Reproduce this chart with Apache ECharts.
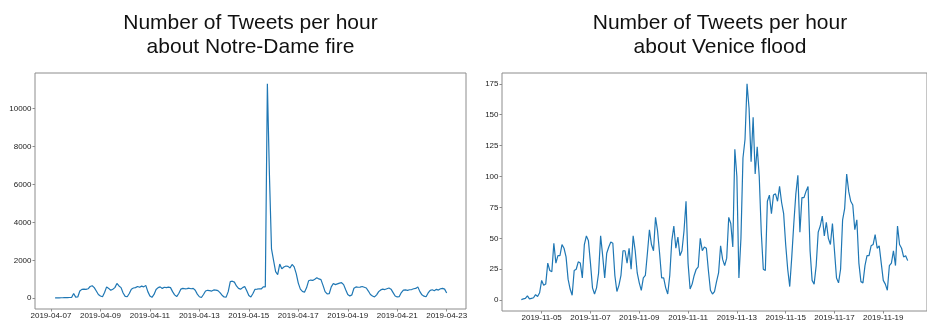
<!DOCTYPE html>
<html>
<head>
<meta charset="utf-8">
<title>Tweets per hour</title>
<script src="https://cdn.jsdelivr.net/npm/echarts@6/dist/echarts.min.js"></script>
<style>
  html, body { margin: 0; padding: 0; background: #fff; }
  #chart { width: 927px; height: 326px; }
</style>
</head>
<body>
<div id="chart"></div>
<script>
const STEP = 2 * 3600 * 1000; // one reading every 2 hours

// Notre-Dame fire, counts from 2019-04-07 04:00
const notreStart = Date.UTC(2019, 3, 7, 4);
const notreCounts = [
  20, 22, 25, 28, 30, 33, 36, 40, 45, 250,
  60, 70, 380, 470, 480, 470, 500, 620, 660, 560, 380, 200,
  120, 80, 300, 600, 520, 420, 480, 560, 780, 650, 560, 280,
  100, 80, 250, 480, 540, 560, 620, 580, 640, 600, 680, 350,
  120, 50, 200, 460, 560, 600, 520, 580, 560, 590, 560, 350,
  180, 90, 250, 480, 520, 500, 510, 530, 500, 520, 420, 220,
  80, 40, 200, 380, 420, 400, 380, 440, 430, 400, 300, 160,
  70, 60, 350, 880, 900, 850, 650, 520, 480, 560, 620, 400,
  150, 70, 250, 470, 480, 500, 490, 600, 600, 11300, 6500, 2600,
  2000, 1400, 1250, 1800, 1550, 1650, 1700, 1680, 1600, 1780, 1650, 1300,
  800, 480, 360, 320, 550, 920, 960, 940, 1000, 1080, 1020, 980,
  680, 350, 230, 240, 600, 780, 720, 760, 800, 820, 720, 450,
  200, 120, 180, 530, 600, 580, 590, 620, 580, 540, 380, 200,
  120, 70, 180, 350, 440, 480, 460, 500, 540, 480, 300, 120,
  70, 90, 300, 430, 440, 420, 450, 460, 500, 520, 600, 350,
  180, 110, 80, 280, 420, 450, 400, 470, 430, 500, 520, 480,
  280
];
const notreDays = ['2019-04-07', '2019-04-09', '2019-04-11', '2019-04-13',
  '2019-04-15', '2019-04-17', '2019-04-19', '2019-04-21', '2019-04-23'];
const notreYTicks = [0, 2000, 4000, 6000, 8000, 10000];

// Venice flood, counts from 2019-11-04 04:00
const veniceStart = Date.UTC(2019, 10, 4, 4);
const veniceCounts = [
  0.5, 1, 1.5, 3.5, 1, 1.5, 2, 4.5, 3, 6,
  16, 12, 13, 30, 24, 23, 46, 30, 36, 36, 45, 42,
  35, 17, 9, 4, 24, 25, 31, 30, 18, 45, 52, 48,
  30, 10, 5, 10, 22, 52, 36, 18, 38, 43, 47, 46,
  20, 7, 12, 20, 40, 40, 30, 42, 25, 52, 40, 22,
  14, 8, 18, 20, 38, 57, 45, 40, 67, 56, 38, 18,
  18, 10, 5, 20, 48, 60, 42, 51, 36, 40, 56, 80,
  30, 9, 13, 20, 25, 27, 50, 40, 43, 42, 24, 8,
  5, 7, 15, 22, 44, 33, 28, 34, 67, 62, 43, 122,
  100, 18, 50, 115, 130, 175, 155, 112, 148, 102, 124, 100,
  55, 25, 24, 80, 85, 70, 85, 86, 80, 92, 79, 70,
  45, 25, 11, 35, 62, 86, 101, 55, 83, 83, 88, 92,
  40, 16, 13, 28, 55, 60, 68, 52, 63, 50, 45, 62,
  40, 18, 14, 25, 65, 74, 102, 88, 80, 77, 57, 65,
  30, 15, 14, 28, 36, 36, 44, 45, 53, 42, 44, 30,
  16, 13, 8, 28, 30, 40, 28, 60, 45, 42, 35, 36,
  32
];
const veniceDays = ['2019-11-05', '2019-11-07', '2019-11-09', '2019-11-11',
  '2019-11-13', '2019-11-15', '2019-11-17', '2019-11-19'];
const veniceYTicks = [0, 25, 50, 75, 100, 125, 150, 175];

const toPoints = (start, counts) => counts.map((v, i) => [start + i * STEP, v]);
const dayTime = (s) => Date.parse(s + 'T00:00:00Z');
const pad = (n) => (n < 10 ? '0' : '') + n;
const fmtDay = (v) => {
  const d = new Date(v);
  return d.getUTCFullYear() + '-' + pad(d.getUTCMonth() + 1) + '-' + pad(d.getUTCDate());
};

const frameColor = '#8c8c8c';
const labelStyle = { fontFamily: 'Liberation Sans', fontSize: 8, color: '#222' };
const titleStyle = {
  fontFamily: 'Liberation Sans', fontSize: 21, fontWeight: 'normal',
  color: '#111', lineHeight: 24,
};

function xAxis(grid, min, max, days) {
  const ticks = days.map(dayTime);
  return {
    type: 'value', gridIndex: grid, min: min, max: max,
    splitLine: { show: false },
    axisLine: { show: false, onZero: false },
    axisTick: { show: true, length: 2.5, customValues: ticks, lineStyle: { color: frameColor } },
    axisLabel: Object.assign({ margin: 3, customValues: ticks, formatter: fmtDay }, labelStyle),
  };
}

function yAxis(grid, min, max, ticks) {
  return {
    type: 'value', gridIndex: grid, min: min, max: max,
    splitLine: { show: false },
    axisLine: { show: false, onZero: false },
    axisTick: { show: true, length: 2.5, customValues: ticks, lineStyle: { color: frameColor } },
    axisLabel: Object.assign({ margin: 3.5, customValues: ticks, formatter: (v) => String(v) }, labelStyle),
  };
}

function lineSeries(idx, data) {
  return {
    type: 'line', xAxisIndex: idx, yAxisIndex: idx, data: data,
    symbol: 'none', silent: true,
    lineStyle: { color: '#1f77b4', width: 1.2 },
  };
}

const chart = echarts.init(document.getElementById('chart'));
chart.setOption({
  animation: false,
  backgroundColor: '#fff',
  title: [
    {
      text: 'Number of Tweets per hour\nabout Notre-Dame fire',
      left: 250.5, top: 11, padding: 0,
      textAlign: 'center', textVerticalAlign: 'top', textStyle: titleStyle,
    },
    {
      text: 'Number of Tweets per hour\nabout Venice flood',
      left: 720, top: 11, padding: 0,
      textAlign: 'center', textVerticalAlign: 'top', textStyle: titleStyle,
    },
  ],
  grid: [
    { left: 35, top: 73, width: 431, height: 236, show: true, borderColor: frameColor, borderWidth: 1 },
    { left: 502, top: 73, width: 435.5, height: 238, show: true, borderColor: frameColor, borderWidth: 1 },
  ],
  xAxis: [
    xAxis(0, Date.UTC(2019, 3, 6, 8, 30), Date.UTC(2019, 3, 23, 18, 45), notreDays),
    xAxis(1, Date.UTC(2019, 10, 3, 9), Date.UTC(2019, 10, 20, 19), veniceDays),
  ],
  yAxis: [
    yAxis(0, -565, 11865, notreYTicks),
    yAxis(1, -8.75, 183.75, veniceYTicks),
  ],
  series: [
    lineSeries(0, toPoints(notreStart, notreCounts)),
    lineSeries(1, toPoints(veniceStart, veniceCounts)),
  ],
});

window.addEventListener('resize', () => chart.resize());
</script>
</body>
</html>
